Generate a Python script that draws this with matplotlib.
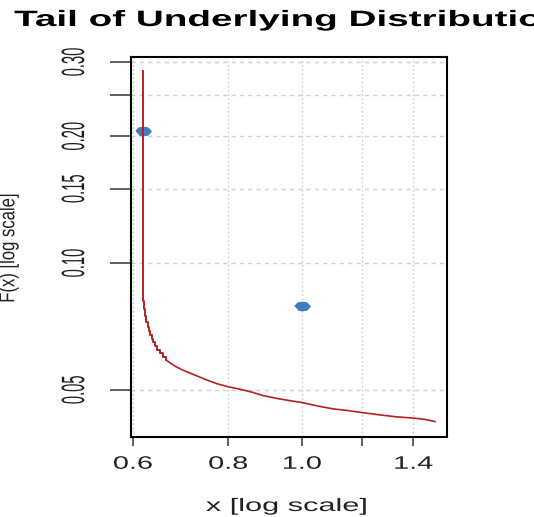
import matplotlib
matplotlib.use("Agg")
import matplotlib.pyplot as plt
from matplotlib.patheffects import AbstractPathEffect
from matplotlib.transforms import Affine2D
from matplotlib.ticker import FixedLocator, FixedFormatter, NullLocator

# ── data ────────────────────────────────────────────────────────────────
# head of the empirical tail (drawn as steps)
head_x = [0.619, 0.619, 0.621, 0.623, 0.625, 0.627, 0.629, 0.632, 0.635,
          0.638, 0.642, 0.646, 0.651, 0.657, 0.664]
head_y = [0.286, 0.081, 0.0775, 0.0746, 0.0725, 0.0706, 0.069, 0.0675,
          0.066, 0.0647, 0.0634, 0.0622, 0.061, 0.0598, 0.0587]
# rest of the tail (fine steps, drawn as a line)
tail_x = [0.664, 0.672, 0.682, 0.695, 0.71, 0.73, 0.75, 0.775, 0.80, 0.83,
          0.86, 0.89, 0.93, 0.97, 1.0, 1.05, 1.1, 1.15, 1.2, 1.26, 1.33,
          1.40, 1.45, 1.495]
tail_y = [0.0587, 0.0578, 0.0568, 0.0558, 0.0549, 0.0538, 0.0527, 0.0516,
          0.0508, 0.0501, 0.0493, 0.0484, 0.0476, 0.0470, 0.0466, 0.0457,
          0.0450, 0.0446, 0.0441, 0.0436, 0.0431, 0.0428, 0.0425, 0.0420]

point_x = [0.619, 1.0]
point_y = [0.206, 0.0788]

x_ticks = [0.6, 0.8, 1.0, 1.2, 1.4]
x_tick_labels = ["0.6", "0.8", "1.0", "", "1.4"]
y_ticks = [0.05, 0.10, 0.15, 0.20, 0.25, 0.30]
y_tick_labels = ["0.05", "0.10", "0.15", "0.20", "", "0.30"]

title = "Tail of Underlying Distribution"
x_label = "x [log scale]"
y_label = "F(x) [log scale]"


# the reference is stretched sideways: widen glyphs horizontally
class StretchX(AbstractPathEffect):
    def __init__(self, sx):
        super().__init__()
        self.sx = sx

    def draw_path(self, renderer, gc, tpath, affine, rgbFace=None):
        ext = tpath.get_extents(affine)
        cx = (ext.x0 + ext.x1) / 2
        affine = affine + Affine2D().translate(-cx, 0).scale(self.sx, 1).translate(cx, 0)
        renderer.draw_path(gc, tpath, affine, rgbFace)


plt.rcParams["font.family"] = ["Liberation Sans", "DejaVu Sans"]

W, H = 534, 517
fig = plt.figure(figsize=(W / 100, H / 100), dpi=100)
ax = fig.add_axes([131 / W, 1 - 437 / H, 316 / W, 380 / H])

ax.plot(point_x, point_y, linestyle="none",
        marker=[(-1, 0), (-0.6, 0.45), (0, 0.55), (0.6, 0.45), (1, 0),
                (0.6, -0.45), (0, -0.55), (-0.6, -0.45)],
        markersize=11, color="#3f7cbf", zorder=3)
ax.plot(head_x, head_y, drawstyle="steps-post", color="#b22222",
        lw=1.4, zorder=4)
ax.plot(tail_x, tail_y, color="#b22222", lw=1.2, zorder=4)

ax.set_xscale("log")
ax.set_yscale("log")
ax.set_xlim(0.5965, 1.55)
ax.set_ylim(0.0386, 0.308)

ax.xaxis.set_major_locator(FixedLocator(x_ticks))
ax.xaxis.set_major_formatter(FixedFormatter(x_tick_labels))
ax.xaxis.set_minor_locator(NullLocator())
ax.yaxis.set_major_locator(FixedLocator(y_ticks))
ax.yaxis.set_major_formatter(FixedFormatter(y_tick_labels))
ax.yaxis.set_minor_locator(NullLocator())

ax.grid(axis="x", color="#cccccc", lw=1, linestyle=(0, (1.2, 1.8)))
ax.grid(axis="y", color="#d0d0d0", lw=1, linestyle=(0, (3, 3)))
ax.set_axisbelow(True)

for s in ax.spines.values():
    s.set_linewidth(1.5)
    s.set_color("black")

ax.tick_params(axis="x", direction="out", length=6.5, width=1.1,
               color="#333333", labelsize=13, pad=7, labelcolor="#222222")
ax.tick_params(axis="y", direction="out", length=15, width=1.1,
               color="#333333", labelsize=10.6, pad=21, labelcolor="#222222",
               labelrotation=90)

fig.text(289 / W, 1 - 26 / H, title, ha="center", va="baseline",
         fontsize=16, fontweight="bold", color="black",
         path_effects=[StretchX(1.74)])
fig.text(286.5 / W, 1 - 511 / H, x_label, ha="center", va="baseline",
         fontsize=13, color="#222222", path_effects=[StretchX(1.7)])
fig.text(8.5 / W, 1 - 248 / H, y_label, ha="center", va="center",
         rotation=90, fontsize=12, color="#222222",
         path_effects=[StretchX(1.3)])

# tick labels exist for sure after a first draw
fig.canvas.draw()
for lab in ax.get_xticklabels():
    lab.set_path_effects([StretchX(1.6)])
for lab in ax.get_yticklabels():
    lab.set_va("center")
    lab.set_path_effects([StretchX(2.2)])

fig.savefig("out.png", dpi=100)
